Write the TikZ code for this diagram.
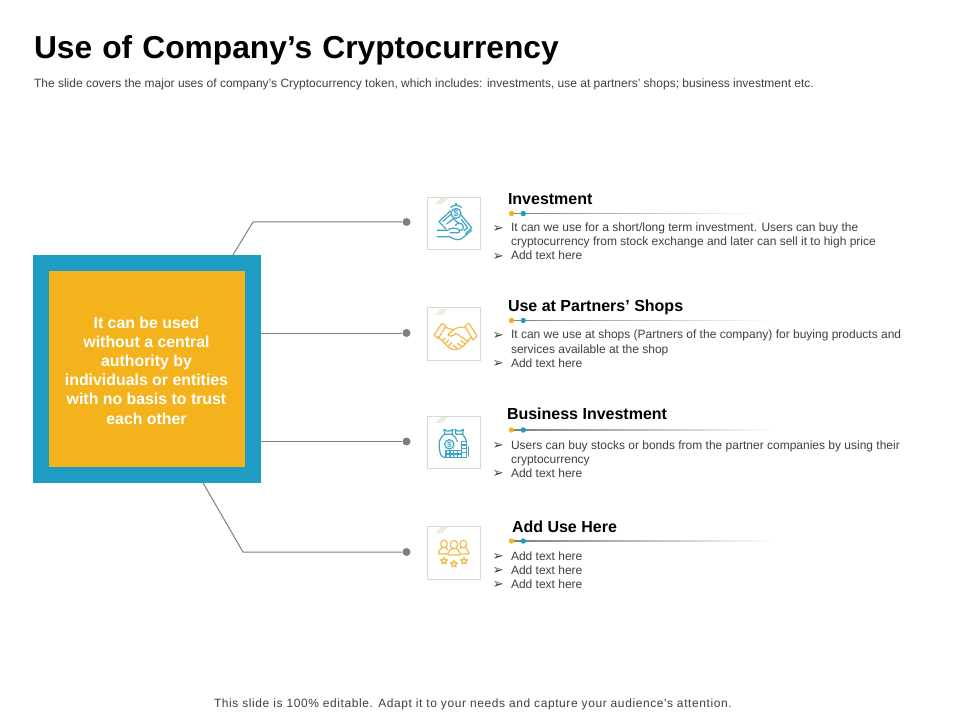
\documentclass[tikz,border=0pt]{standalone}
\usepackage{fontspec}
\setmainfont{Liberation Sans}
\newfontfamily\bulletfont{DejaVu Sans}
\newfontfamily\footfont[LetterSpace=4.95]{Liberation Sans}
\definecolor{ink}{HTML}{404040}
\definecolor{wire}{HTML}{7F7F7F}
\definecolor{bluebrand}{HTML}{1F9CC3}
\definecolor{yellowbrand}{HTML}{F4B21C}
\definecolor{iconblue}{HTML}{3FA5C4}
\definecolor{iconyellow}{HTML}{F2BC4A}
\definecolor{framegray}{HTML}{D9D9D9}
\definecolor{hatch}{HTML}{E4E0C8}
\tikzset{
  x=0.75pt,y=-0.75pt,
  txt/.style={anchor=base west,inner sep=0pt,outer sep=0pt},
  headtxt/.style={txt,font=\fontsize{12}{14}\selectfont\bfseries,text=black},
  bodytxt/.style={txt,font=\fontsize{9}{10.5}\selectfont,text=ink},
  bul/.style={txt,font=\fontsize{10}{12}\bulletfont,text=ink},
  wireline/.style={draw=wire,line width=0.75pt},
  enddot/.style={circle,fill=wire,minimum size=6pt,inner sep=0pt},
  iconframe/.style={draw=framegray,line width=0.75pt,fill=white},
  hatchline/.style={draw=hatch,line width=0.7pt},
  ic/.style={line width=0.9pt,line join=round,line cap=round},
}
\newcommand{\bulleted}[4]{%
  \node[bul] (#1b) at (492.5,#3+0.5) {➢};
  \node[bodytxt] (#1) at (511,#3) {#4};
}
\newcommand{\headrule}[2]{%
  \shade[left color=wire,right color=white,draw=none] (511,#1-0.4) rectangle (#2,#1+0.4);
  \fill[yellowbrand] (511.5,#1) circle (2.7);
  \fill[bluebrand] (523.3,#1) circle (2.7);
}
\newcommand{\iconhatch}[2]{%
  \foreach \k in {0,2.5,5}{\draw[hatchline] (#1+\k,#2+8) -- (#1+\k+6,#2+2);}
}
\newcommand{\iconstar}[2]{%
  \draw[ic,draw=iconyellow,shift={(#1,#2)}] (0,-11)--(2.8,-3.8)--(10.4,-3.4)--(4.6,1.5)--(6.5,8.9)--(0,4.9)--(-6.5,8.9)--(-4.6,1.5)--(-10.4,-3.4)--(-2.8,-3.8)--cycle;
}
\newcommand{\person}[3]{%
  \fill[white] (#1-18,#2+32) rectangle (#1+18,#2+14);
  \draw[ic,draw=iconyellow] (#1,#2) circle[x radius=#3,y radius=#3*1.15];
  \draw[ic,draw=iconyellow] (#1-#3*0.5,#2+#3) .. controls (#1-#3*0.6,#2+#3+5) and (#1-#3*1.6,#2+#3+4) .. (#1-#3*1.6,#2+#3+14) -- (#1-#3*1.6,#2+#3+20) -- (#1+#3*1.6,#2+#3+20) -- (#1+#3*1.6,#2+#3+14) .. controls (#1+#3*1.6,#2+#3+4) and (#1+#3*0.6,#2+#3+5) .. (#1+#3*0.5,#2+#3);
}
\begin{document}
\begin{tikzpicture}
\useasboundingbox (0,0) rectangle (960,720);
\fill[white] (0,0) rectangle (960,720);

% title
\node[txt,font=\fontsize{23.8}{28}\selectfont\bfseries,text=black] (title) at (34,59) {Use\hspace{1pt} of\hspace{1pt} Company’s\hspace{1pt} Cryptocurrency};
\node[txt,font=\fontsize{9}{11}\selectfont,text=ink] (subtitle) at (34,88) {The slide covers the major uses of company’s Cryptocurrency token, which includes: investments, use at partners’ shops; business investment etc.};
\node[txt,font=\fontsize{9}{11}\footfont,text=ink] (foot) at (214,707) {This slide is 100\% editable. Adapt it to your needs and capture your audience's attention.};

% end dots and elbow coordinates
\node[enddot] (d1) at (406.5,222) {};
\node[enddot] (d2) at (406.5,333) {};
\node[enddot] (d3) at (406.5,441.5) {};
\node[enddot] (d4) at (406.5,552) {};
\coordinate (e1) at (253,222);
\coordinate (e4) at (243,552);
\coordinate (s1) at (225,268);
\coordinate (s4) at (195,469);

\draw[wireline] (s1) -- (e1) -- (d1);
\draw[wireline] (147,333) -- (d2);
\draw[wireline] (147,441.5) -- (d3);
\draw[wireline] (s4) -- (e4) -- (d4);

% central box
\node[draw=none,fill=bluebrand,minimum width=171pt,minimum height=171pt,inner sep=0pt] (outer) at (147,369) {};
\node[fill=yellowbrand,minimum width=147pt,minimum height=147pt,inner sep=0pt] (inner) at (147,369) {};
\node[inner sep=0pt,align=center,text=white,font=\fontsize{11.9}{14.4}\selectfont\bfseries] (innertext) at (146.5,370.5) {It can be used\\without a central\\authority by\\individuals or entities\\with no basis to trust\\each other};

% frames
\draw[iconframe] (427.5,197.5) rectangle (480.5,249.5);
\draw[iconframe] (427.5,308) rectangle (480.5,360.5);
\draw[iconframe] (427.5,416.5) rectangle (480.5,468.5);
\draw[iconframe] (427.5,526.5) rectangle (480.5,579.5);
\iconhatch{436}{196}
\iconhatch{436}{307}
\iconhatch{436}{415}
\iconhatch{436}{525}

% icon 1: coin, notes and hand
\begin{scope}[shift={(420,180)},x=0.25pt,y=-0.25pt]
\draw[ic,draw=iconblue] (108,100) circle (15);
\draw[ic,draw=iconblue] (92,82) .. controls (100,74) and (116,74) .. (124,82);
\draw[ic,draw=iconblue] (106,72) -- (110,72);
\node[inner sep=0pt,text=iconblue,font=\fontsize{7}{8}\selectfont\bfseries] (dollar1) at (108,100) {\$};
\draw[ic,draw=iconblue] (78,147) -- (57,125) -- (91,93);
\draw[ic,draw=iconblue] (124,106) -- (155,143) -- (136,162);
\draw[ic,draw=iconblue] (68,125) -- (94,102);
\draw[ic,draw=iconblue] (80,132) -- (100,116) -- (118,132);
\draw[ic,draw=iconblue] (124,118) -- (143,143) -- (132,152);
\draw[ic,draw=iconblue] (106,136) .. controls (112,126) and (128,128) .. (130,140) .. controls (131,146) and (127,150) .. (122,152);
\draw[ic,draw=iconblue] (52,151) -- (82,151) .. controls (92,143) and (105,142) .. (118,149) .. controls (123,155) and (116,160) .. (106,158) -- (90,158);
\draw[ic,draw=iconblue] (52,170) -- (88,170) .. controls (98,175) and (112,184) .. (125,176) -- (156,150);
\end{scope}

% icon 2: handshake
\begin{scope}[shift={(420,180)},x=0.25pt,y=-0.25pt]
\draw[ic,draw=iconyellow] (42,465) -- (66,430) -- (78,438) -- (54,476) -- cycle;
\draw[ic,draw=iconyellow] (135,438) -- (147,430) -- (171,468) -- (159,480) -- cycle;
\draw[ic,draw=iconyellow] (74,442) -- (100,449) -- (118,441) -- (136,444);
\draw[ic,draw=iconyellow] (154,472) -- (128,500) .. controls (118,510) and (98,512) .. (88,504) -- (54,470);
\draw[ic,draw=iconyellow] (100,449) -- (84,464) .. controls (90,472) and (100,468) .. (108,460) -- (146,486);
\draw[ic,draw=iconyellow] (68,482) -- (76,474);
\draw[ic,draw=iconyellow] (76,490) -- (86,480);
\draw[ic,draw=iconyellow] (85,498) -- (95,488);
\draw[ic,draw=iconyellow] (122,482) -- (136,492);
\draw[ic,draw=iconyellow] (112,490) -- (126,500);
\draw[ic,draw=iconyellow] (100,496) -- (112,506);
\end{scope}

% icon 3: money bags and coins
\begin{scope}[shift={(420,400)},x=0.25pt,y=-0.25pt]
\draw[ic,draw=iconblue] (72,88) -- (80,93) -- (90,93) -- (98,88) -- (96,103) -- (74,103) -- cycle;
\draw[ic,draw=iconblue] (105,88) -- (113,93) -- (122,93) -- (130,88) -- (128,103) -- (108,103) -- cycle;
\draw[ic,draw=iconblue] (74,103) .. controls (60,112) and (55,125) .. (58,145) .. controls (60,160) and (62,172) .. (75,172);
\draw[ic,draw=iconblue] (96,103) .. controls (104,108) and (110,116) .. (112,124);
\draw[ic,draw=iconblue] (128,103) .. controls (134,110) and (138,118) .. (140,126);
\draw[ic,draw=iconblue] (88,133) circle (14);
\node[inner sep=0pt,text=iconblue,font=\fontsize{6}{7}\selectfont\bfseries] (dollar3) at (88,133) {\$};
\draw[ic,draw=iconblue] (78,152) rectangle (124,172);
\draw[ic,draw=iconblue] (78,162) -- (124,162);
\draw[ic,draw=iconblue] (90,152) -- (90,172);
\draw[ic,draw=iconblue] (101,152) -- (101,172);
\draw[ic,draw=iconblue] (113,152) -- (113,172);
\draw[ic,draw=iconblue] (124,125) rectangle (139,172);
\draw[ic,draw=iconblue] (124,135) -- (139,135);
\draw[ic,draw=iconblue] (124,146) -- (139,146);
\draw[ic,draw=iconblue] (124,158) -- (139,158);
\draw[ic,draw=iconblue] (146,140) -- (146,168);
\end{scope}

% icon 4: people and stars
\begin{scope}[shift={(420,400)},x=0.25pt,y=-0.25pt]
\person{72}{432}{10}
\person{130}{432}{10}
\person{102}{434}{11}
\iconstar{72}{483}
\iconstar{102}{492}
\iconstar{132}{483}
\end{scope}

% section 1
\node[headtxt] (h1) at (508,204.5) {Investment};
\headrule{213.5}{760}
\bulleted{a1}{}{232}{It can we use for a short/long term investment. Users can buy the}
\node[bodytxt] (a2) at (511,246) {cryptocurrency from stock exchange and later can sell it to high price};
\bulleted{a3}{}{260}{Add text here}

% section 2
\node[headtxt] (h2) at (508,311.5) {Use at Partners’ Shops};
\headrule{320.5}{775}
\bulleted{b1}{}{339}{It can we use at shops (Partners of the company) for buying products and}
\node[bodytxt] (b2) at (511,353) {services available at the shop};
\bulleted{b3}{}{367}{Add text here}

% section 3
\node[headtxt] (h3) at (507,419.5) {Business Investment};
\headrule{430}{775}
\bulleted{c1}{}{449}{Users can buy stocks or bonds from the partner companies by using their}
\node[bodytxt] (c2) at (511,463) {cryptocurrency};
\bulleted{c3}{}{477}{Add text here}

% section 4
\node[headtxt] (h4) at (512,532.5) {Add Use Here};
\headrule{541}{775}
\bulleted{d1t}{}{560}{Add text here}
\bulleted{d2t}{}{574}{Add text here}
\bulleted{d3t}{}{588}{Add text here}
\end{tikzpicture}
\end{document}
